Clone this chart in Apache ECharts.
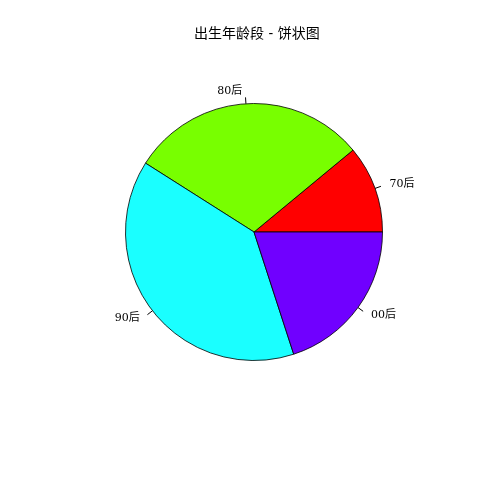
<!DOCTYPE html>
<html><head><meta charset="utf-8">
<script src="https://cdn.jsdelivr.net/npm/echarts@6/dist/echarts.min.js"></script>
<style>html,body{margin:0;padding:0;background:#fff;}#c{width:480px;height:480px;}</style>
</head><body><div id="c"></div>
<script>
const categories = ['70后', '80后', '90后', '00后'];
const values = [11, 30, 39, 20];
const colors = ['#FF0000', '#78FF00', '#1AFFFF', '#7000FF'];
const titleText = '出生年龄段 - 饼状图';

const chart = echarts.init(document.getElementById('c'), null, {renderer: 'canvas'});
chart.setOption({
  animation: false,
  backgroundColor: '#ffffff',
  title: {
    text: titleText, left: 189, top: 22,
    textStyle: {fontFamily: '"DejaVu Serif","Noto Sans CJK SC"', fontSize: 14, fontWeight: 'normal', color: '#000'}
  },
  series: [{
    type: 'pie',
    center: [254, 232],
    radius: [0, 128.5],
    startAngle: 0,
    clockwise: false,
    avoidLabelOverlap: false,
    data: categories.map((c, i) => ({name: c, value: values[i], itemStyle: {color: colors[i]}})),
    itemStyle: {borderColor: '#000', borderWidth: 0.8},
    label: {
      show: true, position: 'outside', formatter: '{b}',
      fontFamily: '"DejaVu Serif","Noto Sans CJK SC"', fontSize: 11, color: '#000',
      distanceToLabelLine: 3
    },
    labelLine: {show: true, length: 6.4, length2: 0, smooth: false, lineStyle: {color: '#000', width: 1}},
    labelLayout: function (p) {
      const pts = p.labelLinePoints;
      if (!pts) return {};
      const a = pts[0], b = pts[pts.length - 1];
      const vx = b[0] - a[0], vy = b[1] - a[1];
      const L = Math.sqrt(vx * vx + vy * vy) || 1;
      return {dx: vx / L * 6, dy: vy / L * 6};
    },
    emphasis: {disabled: true}
  }]
});
</script></body></html>
